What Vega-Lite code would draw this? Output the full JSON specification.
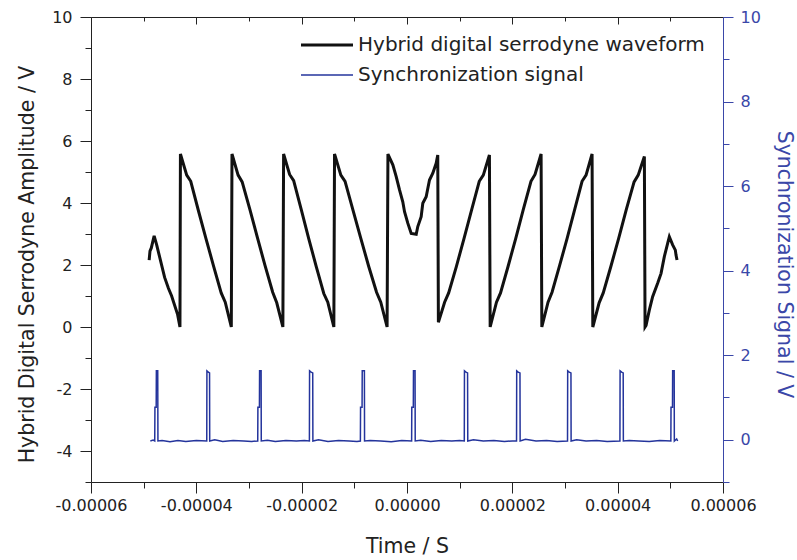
{
  "$schema": "https://vega.github.io/schema/vega-lite/v6.json",
  "width": 632,
  "height": 465,
  "autosize": {"type": "none"},
  "padding": {"left": 91, "top": 17, "right": 74, "bottom": 78},
  "background": "white",
  "config": {
    "font": "DejaVu Sans",
    "view": {"stroke": null},
    "axis": {"grid": false, "labelFont": "DejaVu Sans", "titleFont": "DejaVu Sans", "titleFontWeight": "normal", "labelOverlap": false, "labelFlush": false, "domainWidth": 1, "tickWidth": 1}
  },
  "datasets": {
    "d": [
      {"s": "wave", "t": -48.96e-6, "v": 2.16},
      {"s": "wave", "t": -48.80e-6, "v": 2.45},
      {"s": "wave", "t": -48.55e-6, "v": 2.55},
      {"s": "wave", "t": -48.01e-6, "v": 2.94},
      {"s": "wave", "t": -47.53e-6, "v": 2.65},
      {"s": "wave", "t": -46.02e-6, "v": 1.6},
      {"s": "wave", "t": -45.30e-6, "v": 1.25},
      {"s": "wave", "t": -44.69e-6, "v": 1.0},
      {"s": "wave", "t": -43.55e-6, "v": 0.4},
      {"s": "wave", "t": -43.11e-6, "v": 0.0},
      {"s": "wave", "t": -43.02e-6, "v": 5.58},
      {"s": "wave", "t": -41.83e-6, "v": 4.9},
      {"s": "wave", "t": -41.06e-6, "v": 4.7},
      {"s": "wave", "t": -39.60e-6, "v": 3.75},
      {"s": "wave", "t": -38.17e-6, "v": 2.85},
      {"s": "wave", "t": -36.70e-6, "v": 1.95},
      {"s": "wave", "t": -35.28e-6, "v": 1.1},
      {"s": "wave", "t": -34.51e-6, "v": 0.8},
      {"s": "wave", "t": -33.36e-6, "v": 0.0},
      {"s": "wave", "t": -33.23e-6, "v": 5.58},
      {"s": "wave", "t": -32.07e-6, "v": 4.9},
      {"s": "wave", "t": -31.30e-6, "v": 4.68},
      {"s": "wave", "t": -29.85e-6, "v": 3.8},
      {"s": "wave", "t": -28.40e-6, "v": 2.88},
      {"s": "wave", "t": -26.95e-6, "v": 1.98},
      {"s": "wave", "t": -25.50e-6, "v": 1.12},
      {"s": "wave", "t": -24.73e-6, "v": 0.78},
      {"s": "wave", "t": -23.57e-6, "v": 0.0},
      {"s": "wave", "t": -23.43e-6, "v": 5.58},
      {"s": "wave", "t": -22.29e-6, "v": 4.92},
      {"s": "wave", "t": -21.52e-6, "v": 4.72},
      {"s": "wave", "t": -20.10e-6, "v": 3.8},
      {"s": "wave", "t": -18.66e-6, "v": 2.85},
      {"s": "wave", "t": -17.23e-6, "v": 1.95},
      {"s": "wave", "t": -15.80e-6, "v": 1.08},
      {"s": "wave", "t": -15.04e-6, "v": 0.8},
      {"s": "wave", "t": -13.89e-6, "v": 0.0},
      {"s": "wave", "t": -13.76e-6, "v": 5.58},
      {"s": "wave", "t": -12.56e-6, "v": 4.9},
      {"s": "wave", "t": -11.76e-6, "v": 4.7},
      {"s": "wave", "t": -10.27e-6, "v": 3.78},
      {"s": "wave", "t": -8.77e-6, "v": 2.86},
      {"s": "wave", "t": -7.28e-6, "v": 1.96},
      {"s": "wave", "t": -5.78e-6, "v": 1.12},
      {"s": "wave", "t": -4.98e-6, "v": 0.8},
      {"s": "wave", "t": -3.78e-6, "v": 0.0},
      {"s": "wave", "t": -3.62e-6, "v": 5.58},
      {"s": "wave", "t": -2.69e-6, "v": 5.23},
      {"s": "wave", "t": -2.05e-6, "v": 4.85},
      {"s": "wave", "t": -1.42e-6, "v": 4.42},
      {"s": "wave", "t": -0.80e-6, "v": 4.04},
      {"s": "wave", "t": -0.47e-6, "v": 3.72},
      {"s": "wave", "t": 0.15e-6, "v": 3.35},
      {"s": "wave", "t": 0.80e-6, "v": 3.02},
      {"s": "wave", "t": 1.75e-6, "v": 2.99},
      {"s": "wave", "t": 2.05e-6, "v": 3.24},
      {"s": "wave", "t": 2.69e-6, "v": 3.56},
      {"s": "wave", "t": 3.00e-6, "v": 3.99},
      {"s": "wave", "t": 3.64e-6, "v": 4.2},
      {"s": "wave", "t": 4.27e-6, "v": 4.74},
      {"s": "wave", "t": 4.90e-6, "v": 4.96},
      {"s": "wave", "t": 5.54e-6, "v": 5.28},
      {"s": "wave", "t": 5.84e-6, "v": 5.55},
      {"s": "wave", "t": 5.96e-6, "v": 0.15},
      {"s": "wave", "t": 7.14e-6, "v": 0.8},
      {"s": "wave", "t": 7.91e-6, "v": 1.1},
      {"s": "wave", "t": 9.37e-6, "v": 1.95},
      {"s": "wave", "t": 10.82e-6, "v": 2.85},
      {"s": "wave", "t": 12.27e-6, "v": 3.78},
      {"s": "wave", "t": 13.72e-6, "v": 4.7},
      {"s": "wave", "t": 14.49e-6, "v": 4.9},
      {"s": "wave", "t": 15.65e-6, "v": 5.55},
      {"s": "wave", "t": 15.79e-6, "v": 0.0},
      {"s": "wave", "t": 16.99e-6, "v": 0.8},
      {"s": "wave", "t": 17.76e-6, "v": 1.1},
      {"s": "wave", "t": 19.20e-6, "v": 1.96},
      {"s": "wave", "t": 20.65e-6, "v": 2.86},
      {"s": "wave", "t": 22.10e-6, "v": 3.8},
      {"s": "wave", "t": 23.54e-6, "v": 4.7},
      {"s": "wave", "t": 24.31e-6, "v": 4.92},
      {"s": "wave", "t": 25.46e-6, "v": 5.58},
      {"s": "wave", "t": 25.60e-6, "v": 0.0},
      {"s": "wave", "t": 26.78e-6, "v": 0.8},
      {"s": "wave", "t": 27.54e-6, "v": 1.12},
      {"s": "wave", "t": 28.97e-6, "v": 1.98},
      {"s": "wave", "t": 30.39e-6, "v": 2.85},
      {"s": "wave", "t": 31.82e-6, "v": 3.78},
      {"s": "wave", "t": 33.24e-6, "v": 4.7},
      {"s": "wave", "t": 34.00e-6, "v": 4.9},
      {"s": "wave", "t": 35.14e-6, "v": 5.58},
      {"s": "wave", "t": 35.28e-6, "v": 0.0},
      {"s": "wave", "t": 36.48e-6, "v": 0.78},
      {"s": "wave", "t": 37.26e-6, "v": 1.1},
      {"s": "wave", "t": 38.72e-6, "v": 1.96},
      {"s": "wave", "t": 40.19e-6, "v": 2.86},
      {"s": "wave", "t": 41.66e-6, "v": 3.8},
      {"s": "wave", "t": 43.12e-6, "v": 4.68},
      {"s": "wave", "t": 43.90e-6, "v": 4.9},
      {"s": "wave", "t": 45.07e-6, "v": 5.5},
      {"s": "wave", "t": 45.20e-6, "v": 0.0},
      {"s": "wave", "t": 45.39e-6, "v": 0.05},
      {"s": "wave", "t": 46.02e-6, "v": 0.55},
      {"s": "wave", "t": 46.64e-6, "v": 0.98},
      {"s": "wave", "t": 47.59e-6, "v": 1.41},
      {"s": "wave", "t": 48.24e-6, "v": 1.73},
      {"s": "wave", "t": 48.86e-6, "v": 2.27},
      {"s": "wave", "t": 49.49e-6, "v": 2.7},
      {"s": "wave", "t": 49.81e-6, "v": 2.91},
      {"s": "wave", "t": 50.44e-6, "v": 2.65},
      {"s": "wave", "t": 50.95e-6, "v": 2.48},
      {"s": "wave", "t": 51.08e-6, "v": 2.32},
      {"s": "wave", "t": 51.27e-6, "v": 2.16},

      {"s": "sync", "t": -48.73e-6, "v": -0.03},
      {"s": "sync", "t": -48.20e-6, "v": -0.01},
      {"s": "sync", "t": -47.90e-6, "v": -0.03},
      {"s": "sync", "t": -47.86e-6, "v": 0.77},
      {"s": "sync", "t": -47.62e-6, "v": 0.77},
      {"s": "sync", "t": -47.59e-6, "v": 1.63},
      {"s": "sync", "t": -47.33e-6, "v": 1.63},
      {"s": "sync", "t": -47.29e-6, "v": -0.03},
      {"s": "sync", "t": -46.50e-6, "v": -0.02},
      {"s": "sync", "t": -45.00e-6, "v": -0.05},
      {"s": "sync", "t": -43.50e-6, "v": -0.02},
      {"s": "sync", "t": -42.00e-6, "v": -0.04},
      {"s": "sync", "t": -40.00e-6, "v": -0.02},
      {"s": "sync", "t": -38.02e-6, "v": -0.03},
      {"s": "sync", "t": -37.99e-6, "v": 1.63},
      {"s": "sync", "t": -37.72e-6, "v": 1.6},
      {"s": "sync", "t": -37.49e-6, "v": 1.58},
      {"s": "sync", "t": -37.46e-6, "v": -0.03},
      {"s": "sync", "t": -36.50e-6, "v": 0.0},
      {"s": "sync", "t": -35.00e-6, "v": -0.04},
      {"s": "sync", "t": -33.00e-6, "v": -0.02},
      {"s": "sync", "t": -31.00e-6, "v": -0.03},
      {"s": "sync", "t": -29.50e-6, "v": -0.04},
      {"s": "sync", "t": -28.34e-6, "v": -0.03},
      {"s": "sync", "t": -28.31e-6, "v": 0.77},
      {"s": "sync", "t": -28.02e-6, "v": 0.77},
      {"s": "sync", "t": -27.99e-6, "v": 1.63},
      {"s": "sync", "t": -27.70e-6, "v": 1.63},
      {"s": "sync", "t": -27.67e-6, "v": -0.03},
      {"s": "sync", "t": -26.50e-6, "v": -0.01},
      {"s": "sync", "t": -25.00e-6, "v": -0.04},
      {"s": "sync", "t": -23.00e-6, "v": -0.02},
      {"s": "sync", "t": -21.00e-6, "v": -0.03},
      {"s": "sync", "t": -19.50e-6, "v": -0.02},
      {"s": "sync", "t": -18.53e-6, "v": -0.03},
      {"s": "sync", "t": -18.50e-6, "v": 1.63},
      {"s": "sync", "t": -18.20e-6, "v": 1.6},
      {"s": "sync", "t": -17.90e-6, "v": 1.58},
      {"s": "sync", "t": -17.87e-6, "v": -0.03},
      {"s": "sync", "t": -16.80e-6, "v": 0.0},
      {"s": "sync", "t": -15.00e-6, "v": -0.04},
      {"s": "sync", "t": -13.00e-6, "v": -0.02},
      {"s": "sync", "t": -11.00e-6, "v": -0.03},
      {"s": "sync", "t": -9.50e-6, "v": -0.04},
      {"s": "sync", "t": -8.85e-6, "v": -0.03},
      {"s": "sync", "t": -8.82e-6, "v": 0.77},
      {"s": "sync", "t": -8.53e-6, "v": 0.77},
      {"s": "sync", "t": -8.50e-6, "v": 1.63},
      {"s": "sync", "t": -8.09e-6, "v": 1.63},
      {"s": "sync", "t": -8.06e-6, "v": -0.03},
      {"s": "sync", "t": -7.00e-6, "v": -0.02},
      {"s": "sync", "t": -5.00e-6, "v": -0.03},
      {"s": "sync", "t": -3.00e-6, "v": -0.05},
      {"s": "sync", "t": -1.00e-6, "v": -0.02},
      {"s": "sync", "t": 0.88e-6, "v": -0.03},
      {"s": "sync", "t": 0.91e-6, "v": 0.77},
      {"s": "sync", "t": 1.20e-6, "v": 0.77},
      {"s": "sync", "t": 1.23e-6, "v": 1.63},
      {"s": "sync", "t": 1.53e-6, "v": 1.63},
      {"s": "sync", "t": 1.56e-6, "v": -0.03},
      {"s": "sync", "t": 2.60e-6, "v": -0.01},
      {"s": "sync", "t": 4.50e-6, "v": -0.04},
      {"s": "sync", "t": 6.50e-6, "v": -0.02},
      {"s": "sync", "t": 8.50e-6, "v": -0.03},
      {"s": "sync", "t": 10.00e-6, "v": -0.02},
      {"s": "sync", "t": 10.88e-6, "v": -0.03},
      {"s": "sync", "t": 10.91e-6, "v": 1.63},
      {"s": "sync", "t": 11.20e-6, "v": 1.6},
      {"s": "sync", "t": 11.50e-6, "v": 1.58},
      {"s": "sync", "t": 11.54e-6, "v": -0.03},
      {"s": "sync", "t": 12.60e-6, "v": 0.0},
      {"s": "sync", "t": 14.50e-6, "v": -0.03},
      {"s": "sync", "t": 16.50e-6, "v": -0.02},
      {"s": "sync", "t": 18.50e-6, "v": -0.04},
      {"s": "sync", "t": 20.00e-6, "v": -0.03},
      {"s": "sync", "t": 20.80e-6, "v": -0.03},
      {"s": "sync", "t": 20.83e-6, "v": 1.63},
      {"s": "sync", "t": 21.10e-6, "v": 1.6},
      {"s": "sync", "t": 21.45e-6, "v": 1.58},
      {"s": "sync", "t": 21.48e-6, "v": -0.03},
      {"s": "sync", "t": 22.50e-6, "v": 0.01},
      {"s": "sync", "t": 24.50e-6, "v": -0.03},
      {"s": "sync", "t": 26.50e-6, "v": -0.02},
      {"s": "sync", "t": 28.50e-6, "v": -0.04},
      {"s": "sync", "t": 30.48e-6, "v": -0.03},
      {"s": "sync", "t": 30.51e-6, "v": 1.63},
      {"s": "sync", "t": 30.80e-6, "v": 1.6},
      {"s": "sync", "t": 31.13e-6, "v": 1.58},
      {"s": "sync", "t": 31.16e-6, "v": -0.03},
      {"s": "sync", "t": 32.20e-6, "v": 0.0},
      {"s": "sync", "t": 34.00e-6, "v": -0.03},
      {"s": "sync", "t": 36.00e-6, "v": -0.02},
      {"s": "sync", "t": 38.00e-6, "v": -0.04},
      {"s": "sync", "t": 40.43e-6, "v": -0.03},
      {"s": "sync", "t": 40.46e-6, "v": 1.63},
      {"s": "sync", "t": 40.75e-6, "v": 1.6},
      {"s": "sync", "t": 41.05e-6, "v": 1.58},
      {"s": "sync", "t": 41.08e-6, "v": -0.03},
      {"s": "sync", "t": 42.20e-6, "v": -0.02},
      {"s": "sync", "t": 44.00e-6, "v": -0.03},
      {"s": "sync", "t": 46.00e-6, "v": -0.04},
      {"s": "sync", "t": 48.00e-6, "v": -0.02},
      {"s": "sync", "t": 50.10e-6, "v": -0.03},
      {"s": "sync", "t": 50.13e-6, "v": 0.77},
      {"s": "sync", "t": 50.41e-6, "v": 0.77},
      {"s": "sync", "t": 50.44e-6, "v": 1.63},
      {"s": "sync", "t": 50.73e-6, "v": 1.63},
      {"s": "sync", "t": 50.76e-6, "v": -0.03},
      {"s": "sync", "t": 51.20e-6, "v": 0.02},
      {"s": "sync", "t": 51.39e-6, "v": -0.03}
    ]
  },
  "data": {"name": "d"},
  "layer": [
    {
      "transform": [{"filter": "datum.s == 'wave'"}],
      "mark": {"type": "line", "interpolate": "linear"},
      "encoding": {
        "x": {
          "field": "t", "type": "quantitative",
          "scale": {"domain": [-0.00006, 0.00006], "nice": false, "zero": false},
          "axis": {
            "orient": "bottom",
            "values": [-0.00006, -0.00005, -0.00004, -0.00003, -0.00002, -0.00001, 0, 0.00001, 0.00002, 0.00003, 0.00004, 0.00005, 0.00006],
            "labelExpr": "round(datum.value*1e5) % 2 != 0 ? '' : (datum.value < -1e-9 ? '-' : '') + format(abs(datum.value), '.5f')",
            "tickSize": {"condition": {"test": "round(datum.value*1e5) % 2 == 0", "value": 11}, "value": 6},
            "labelPadding": 4,
            "labelFontSize": 16,
            "labelColor": "#222222",
            "domainColor": "#222222",
            "tickColor": "#222222",
            "title": "Time / S",
            "titleFontSize": 20.5,
            "titleColor": "#222222",
            "titleX": 316,
            "titleY": 70,
            "titleAlign": "center",
            "titleBaseline": "alphabetic"
          }
        },
        "y": {
          "field": "v", "type": "quantitative",
          "scale": {"domain": [-5, 10], "nice": false, "zero": false},
          "axis": {
            "orient": "left",
            "values": [-5, -4, -3, -2, -1, 0, 1, 2, 3, 4, 5, 6, 7, 8, 9, 10],
            "labelExpr": "datum.value % 2 != 0 ? '' : '' + datum.value",
            "tickSize": {"condition": {"test": "datum.value % 2 == 0", "value": 11}, "value": 6},
            "labelPadding": 8,
            "labelFontSize": 16,
            "labelColor": "#222222",
            "domainColor": "#222222",
            "tickColor": "#222222",
            "title": "Hybrid Digital Serrodyne Amplitude / V",
            "titleFontSize": 20.5,
            "titleColor": "#222222",
            "titleAngle": 270,
            "titleX": -58,
            "titleY": 247,
            "titleAlign": "center",
            "titleBaseline": "alphabetic"
          }
        },
        "color": {
          "field": "s", "type": "nominal",
          "scale": {"domain": ["wave", "sync"], "range": ["#111111", "#24349c"]},
          "legend": {
            "orient": "none", "legendX": 226, "legendY": 18, "title": null,
            "labelExpr": "datum.value == 'wave' ? 'Hybrid digital serrodyne waveform' : 'Synchronization signal'",
            "labelFontSize": 20, "labelColor": "#222222", "labelFont": "DejaVu Sans", "labelLimit": 500,
            "symbolType": "M-4,0H4", "symbolSize": 169, "labelOffset": 21, "padding": 0, "rowPadding": 10
          }
        },
        "strokeWidth": {
          "field": "s", "type": "ordinal",
          "scale": {"domain": ["wave", "sync"], "range": [3, 1.5]},
          "legend": {
            "orient": "none", "legendX": 226, "legendY": 18, "title": null,
            "labelExpr": "datum.value == 'wave' ? 'Hybrid digital serrodyne waveform' : 'Synchronization signal'",
            "labelFontSize": 20, "labelColor": "#222222", "labelFont": "DejaVu Sans", "labelLimit": 500,
            "symbolType": "M-4,0H4", "symbolSize": 169, "labelOffset": 21, "padding": 0, "rowPadding": 10
          }
        }
      }
    },
    {
      "transform": [{"filter": "datum.s == 'sync'"}],
      "mark": {"type": "line", "interpolate": "linear"},
      "encoding": {
        "x": {
          "field": "t", "type": "quantitative",
          "scale": {"domain": [-0.00006, 0.00006], "nice": false, "zero": false},
          "axis": {
            "orient": "top",
            "values": [-0.00006, -0.00005, -0.00004, -0.00003, -0.00002, -0.00001, 0, 0.00001, 0.00002, 0.00003, 0.00004, 0.00005, 0.00006],
            "labels": false,
            "title": null,
            "tickSize": {"condition": {"test": "round(datum.value*1e5) % 2 == 0", "value": -7}, "value": -4},
            "domainColor": "#222222",
            "tickColor": "#222222"
          }
        },
        "y": {
          "field": "v", "type": "quantitative",
          "scale": {"domain": [-1, 10], "nice": false, "zero": false},
          "axis": {
            "orient": "right",
            "values": [-1, 0, 1, 2, 3, 4, 5, 6, 7, 8, 9, 10],
            "labelExpr": "datum.value % 2 != 0 ? '' : '' + datum.value",
            "tickSize": {"condition": {"test": "datum.value % 2 == 0", "value": 10}, "value": 6},
            "labelPadding": 7,
            "labelFontSize": 16,
            "labelColor": "#3a47a8",
            "domainColor": "#3a47a8",
            "tickColor": "#3a47a8",
            "title": "Synchronization Signal / V",
            "titleFontSize": 20.5,
            "titleColor": "#3a47a8",
            "titleAngle": 90,
            "titleX": 54,
            "titleY": 247,
            "titleAlign": "center",
            "titleBaseline": "alphabetic"
          }
        },
        "color": {"field": "s", "type": "nominal", "scale": {"domain": ["wave", "sync"], "range": ["#111111", "#24349c"]}},
        "strokeWidth": {"field": "s", "type": "ordinal", "scale": {"domain": ["wave", "sync"], "range": [3, 1.5]}}
      }
    }
  ],
  "resolve": {"scale": {"y": "independent"}, "axis": {"x": "independent"}}
}
